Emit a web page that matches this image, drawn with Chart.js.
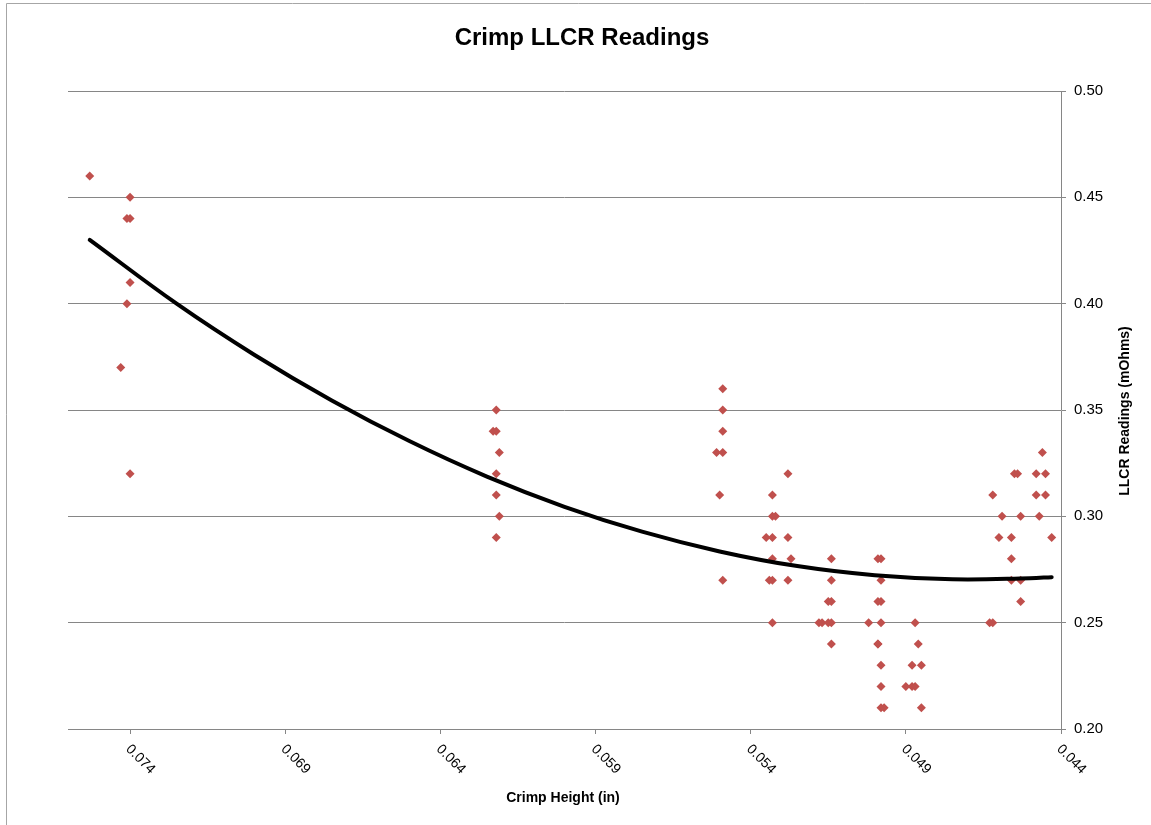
<!DOCTYPE html>
<html lang="en">
<head>
  <meta charset="UTF-8">
  <title>Crimp LLCR Readings</title>
  <script src="https://cdn.jsdelivr.net/npm/chart.js"></script>
  <style>
    html, body { margin: 0; padding: 0; background: #fff; }
    #wrap { width: 1151px; height: 825px; position: relative; }
  </style>
</head>
<body>
  <div id="wrap"><canvas id="crimpChart" width="1151" height="825"></canvas></div>
  <script>
    // crimp height (in) and LLCR reading (mOhms) for each sample
    const crimpHeight = [
      0.0753, 0.0740, 0.0741, 0.0740, 0.0740, 0.0741, 0.0743, 0.0740,
      0.0622, 0.0622, 0.0623, 0.0621, 0.0622, 0.0622, 0.0621, 0.0622,
      0.0549, 0.0549, 0.0549, 0.0551, 0.0549, 0.0550, 0.0549,
      0.0533, 0.0533, 0.0532, 0.0535, 0.0533, 0.0533, 0.0534, 0.0533, 0.0533,
      0.0528, 0.0528, 0.0527, 0.0528,
      0.0514, 0.0514, 0.0515, 0.0514, 0.0518, 0.0517, 0.0514, 0.0515, 0.0514,
      0.0499, 0.0498, 0.0498, 0.0498, 0.0499, 0.0502, 0.0498, 0.0499, 0.0499, 0.0498, 0.0498, 0.0498, 0.0497,
      0.0487, 0.0486, 0.0488, 0.0485, 0.0490, 0.0488, 0.0487, 0.0485,
      0.0446, 0.0455, 0.0454, 0.0448, 0.0445, 0.0462, 0.0448, 0.0445,
      0.0459, 0.0453, 0.0447, 0.0460, 0.0456, 0.0443, 0.0456, 0.0456, 0.0453, 0.0453, 0.0463, 0.0462
    ];
    const llcrReading = [
      0.46, 0.45, 0.44, 0.44, 0.41, 0.40, 0.37, 0.32,
      0.35, 0.34, 0.34, 0.33, 0.32, 0.31, 0.30, 0.29,
      0.36, 0.35, 0.34, 0.33, 0.33, 0.31, 0.27,
      0.31, 0.30, 0.30, 0.29, 0.29, 0.28, 0.27, 0.27, 0.25,
      0.32, 0.29, 0.28, 0.27,
      0.28, 0.27, 0.26, 0.26, 0.25, 0.25, 0.25, 0.25, 0.24,
      0.28, 0.28, 0.27, 0.26, 0.26, 0.25, 0.25, 0.24, 0.24, 0.23, 0.22, 0.21, 0.21,
      0.25, 0.24, 0.23, 0.23, 0.22, 0.22, 0.22, 0.21,
      0.33, 0.32, 0.32, 0.32, 0.32, 0.31, 0.31, 0.31,
      0.30, 0.30, 0.30, 0.29, 0.29, 0.29, 0.28, 0.27, 0.27, 0.26, 0.25, 0.25
    ];
    // poly (order 2) trendline
    const trendX = [0.0753, 0.0725, 0.0700, 0.0675, 0.0650, 0.0625, 0.0600,
                    0.0575, 0.0550, 0.0525, 0.0500, 0.0475, 0.0450, 0.0443];
    const trendY = [0.430, 0.400, 0.376, 0.3545, 0.3354, 0.3187, 0.3045,
                    0.2928, 0.2835, 0.2766, 0.2723, 0.2704, 0.2709, 0.2714];
    const xTicks = [0.074, 0.069, 0.064, 0.059, 0.054, 0.049, 0.044];

    const FONT = "'Liberation Sans', Arial, sans-serif";

    const excelText = {
      id: 'excelText',
      afterDraw(chart) {
        const ctx = chart.ctx;
        const xs = chart.scales.x;
        const area = chart.chartArea;
        ctx.save();
        // frame
        ctx.strokeStyle = '#a6a6a6';
        ctx.lineWidth = 1;
        ctx.beginPath();
        ctx.moveTo(6.5, 825);
        ctx.lineTo(6.5, 3.5);
        ctx.lineTo(1151, 3.5);
        ctx.stroke();
        // title
        ctx.fillStyle = '#000';
        ctx.font = 'bold 24px ' + FONT;
        ctx.textAlign = 'center';
        ctx.textBaseline = 'alphabetic';
        ctx.fillText('Crimp LLCR Readings', 582, 45);
        // x tick labels, rotated 45 deg going down-right
        ctx.font = '14px ' + FONT;
        ctx.textAlign = 'left';
        ctx.textBaseline = 'middle';
        xs.ticks.forEach(t => {
          const px = xs.getPixelForValue(t.value);
          ctx.save();
          ctx.translate(px - 2, area.bottom + 18);
          ctx.rotate(Math.PI / 4);
          ctx.fillText(t.value.toFixed(3), 0, 0);
          ctx.restore();
        });
        // axis titles
        ctx.font = 'bold 14px ' + FONT;
        ctx.textAlign = 'center';
        ctx.fillText('Crimp Height (in)', 563, 798);
        ctx.save();
        ctx.translate(1125, 411);
        ctx.rotate(-Math.PI / 2);
        ctx.fillText('LLCR Readings (mOhms)', 0, 0);
        ctx.restore();
        ctx.restore();
      }
    };

    const points = crimpHeight.map((x, i) => ({ x: x, y: llcrReading[i] }));
    const trend = trendX.map((x, i) => ({ x: x, y: trendY[i] }));

    new Chart(document.getElementById('crimpChart'), {
      type: 'scatter',
      data: {
        datasets: [
          {
            label: 'Readings',
            data: points,
            pointStyle: 'rectRot',
            pointRadius: 4.5,
            pointHoverRadius: 4.5,
            backgroundColor: '#c0504d',
            borderColor: '#c0504d',
            borderWidth: 0,
            order: 2
          },
          {
            label: 'Poly. (Readings)',
            type: 'line',
            data: trend,
            showLine: true,
            borderColor: '#000',
            borderWidth: 4,
            borderCapStyle: 'round',
            pointRadius: 0,
            tension: 0.4,
            fill: false,
            order: 1
          }
        ]
      },
      options: {
        responsive: false,
        animation: false,
        devicePixelRatio: 1,
        layout: { padding: { top: 91, left: 68, right: 0, bottom: 0 } },
        plugins: {
          legend: { display: false },
          title: { display: false },
          tooltip: { enabled: false }
        },
        scales: {
          x: {
            type: 'linear',
            reverse: true,
            min: 0.044,
            max: 0.076,
            afterBuildTicks(scale) {
              scale.ticks = xTicks.map(v => ({ value: v }));
            },
            afterFit(scale) { scale.height = 96; },
            grid: {
              drawOnChartArea: false,
              drawTicks: true,
              tickLength: 5,
              color: '#868686'
            },
            border: { display: true, color: '#868686', width: 1 },
            ticks: { display: false }
          },
          y: {
            position: 'right',
            min: 0.2,
            max: 0.5,
            afterFit(scale) { scale.width = 90; },
            grid: {
              color: '#868686',
              tickLength: 5,
              drawTicks: true
            },
            border: { display: true, color: '#868686', width: 1 },
            ticks: {
              stepSize: 0.05,
              padding: 8,
              color: '#000',
              font: { family: FONT, size: 15 },
              callback: v => v.toFixed(2)
            }
          }
        }
      },
      plugins: [excelText]
    });
  </script>
</body>
</html>
